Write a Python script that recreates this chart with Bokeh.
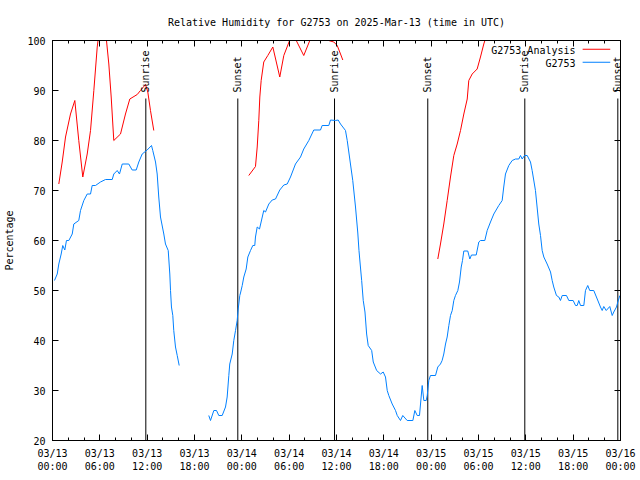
import math
import pandas as pd
from bokeh.plotting import figure
from bokeh.models import (Range1d, FixedTicker, DatetimeTickFormatter, LinearAxis, DatetimeAxis,
                          CustomJSTickFormatter, Label)
from bokeh.embed import file_html
from bokeh.resources import INLINE

NAN = float("nan")
START = "2025-03-13 00:00"
SPAN_HOURS = 72

# Observed relative humidity (G2753), hours since START, percent
obs_hours = [0.25, 0.6, 0.8, 1.1, 1.3, 1.56, 1.77, 2.07, 2.5, 2.7, 3.33, 3.55, 3.97, 4.4, 4.82, 5.03,
             5.45, 6.08, 6.72, 7.57, 7.77, 8.2, 8.49, 8.84, 9.67, 10.1, 10.61, 10.94, 11.37, 12.0,
             12.55, 12.71, 13.06, 13.27, 13.47, 13.69, 14.11, 14.32, 14.67, 14.87, 14.96, 15.08,
             15.25, 15.37, 15.59, 15.81, 16.06,
             18.0,
             19.81, 20.03, 20.45, 20.79, 21.08, 21.51, 21.93, 22.14, 22.35, 22.47, 22.78, 22.98,
             23.2, 23.41, 23.54, 23.74, 23.83, 24.05, 24.25, 24.55, 24.76, 25.1, 25.39, 25.64,
             25.73, 25.95, 26.24, 26.78, 27.0, 27.42, 27.85, 28.27, 28.81, 29.32, 29.75, 30.17,
             30.8, 31.44, 31.85, 32.49, 33.12, 33.97, 34.18, 35.02, 35.24, 35.87, 36.21, 36.51,
             37.14, 37.36, 37.77, 38.06, 38.41, 38.7, 38.85, 39.0, 39.19, 39.39, 39.61, 39.82,
             40.02, 40.46, 40.66, 41.09, 41.58, 41.92, 42.21, 42.43, 42.63, 43.06, 43.48, 43.7,
             44.11, 44.4, 44.96, 45.68, 45.93, 46.23, 46.52, 46.65, 46.86, 47.07, 47.37, 47.5,
             47.7, 47.91, 48.55, 48.84, 49.18, 49.39, 49.6, 49.82, 50.03, 50.24, 50.45, 50.67,
             50.87, 51.08, 51.38, 51.59, 51.81, 51.97, 52.14, 52.64, 52.9, 53.11, 53.71, 54.04,
             54.25, 54.8, 55.1, 55.52, 55.94, 56.57, 57.0, 57.2, 57.42, 57.84, 58.27, 58.69,
             59.11, 59.32, 59.54, 59.83, 60.17, 60.59, 60.8, 61.22, 61.64, 61.86, 62.07, 62.28,
             62.7, 63.13, 63.34, 63.54, 63.88, 64.18, 64.39, 64.61, 65.15, 65.45, 66.0, 66.3,
             66.51, 66.71, 66.93, 67.35, 67.56, 67.85, 68.1, 68.61, 69.05, 69.46, 69.68, 69.88,
             70.19, 70.64, 70.95, 71.15, 71.49, 71.66, 71.92]
obs_rh = [52, 53.3, 55.3, 57.3, 59, 58.1, 60, 60, 61.3, 63.3, 64, 66, 68, 69.3, 69.3, 71,
          71, 71.7, 72.2, 72.2, 73.3, 74, 73.3, 75.3, 75.3, 74.1, 74.1, 75.7, 77.3, 78.1,
          79, 78, 75.7, 73.3, 68.7, 64.7, 61.3, 59.3, 58, 53.3, 50, 46.7,
          45, 42, 38.7, 37, 35,
          NAN,
          25, 24, 26, 26, 25, 25, 26.7, 28.7, 33, 35.3, 37.3, 40,
          42, 44, 46.3, 49, 49.5, 51, 52.7, 54.3, 56.7, 58, 59, 59,
          60.7, 62.7, 62.3, 66, 65.7, 67.3, 68.1, 68.3, 70.1, 71.1, 71.3, 72.7,
          75.3, 76.7, 78.3, 80, 82.1, 82.1, 83, 83, 84.1, 84, 84.1, 83.3,
          82, 80, 75.3, 72, 66.7, 61.5, 58, 55.3, 52, 48, 45.7, 41.3,
          39, 38, 35.7, 34, 33.3, 33.7, 32.7, 30, 29, 27.3, 26, 25,
          24, 25, 24, 24, 26, 25, 25, 27.3, 31, 28, 28, 29,
          32, 33, 33, 34.7, 35.3, 36, 37.3, 39.3, 40.7, 43, 45, 46,
          48, 49, 50, 51.7, 54.7, 56, 57.9, 57.9, 56.3, 57.1, 57.1, 59.7,
          60, 60, 62, 63.7, 65.3, 67, 68, 70.7, 73.3, 75, 76, 76.3,
          76.3, 77, 76.3, 77, 77, 75.7, 74, 70, 63.3, 61, 58, 56.7,
          55.3, 53.7, 52, 50.7, 49, 48.7, 48, 49, 49, 48, 48, 47,
          47, 48, 47, 47, 50, 51, 50, 50, 48.3, 46.7, 46, 46.8,
          46, 46.8, 45, 45.7, 46.7, 47.7, 49]

# Analysis relative humidity (G2753 Analysis), hours since START, percent
ana_hours = [0.8, 1.23, 1.65, 2.28, 2.83, 3.33, 3.84, 4.4, 4.82, 5.24, 5.67, 6.08, 6.6, 6.8,
             7.14, 7.44, 7.77, 8.62, 9.25, 9.8, 10.74, 11.15, 11.79, 12.08, 12.42, 12.84,
             18.0,
             24.88, 25.73, 25.95, 26.15, 26.28, 26.45, 26.78, 27.29, 27.93, 28.81, 29.32, 30.42,
             31.85, 33.0, 34.3, 35.0, 35.66, 36.09, 36.51, 36.8,
             42.0,
             48.84, 49.18, 49.6, 50.03, 50.45, 50.87, 51.3, 51.72, 52.14, 52.57, 52.77, 53.2,
             53.83, 54.25, 54.67, 55.01]
ana_rh = [71.3, 75.7, 80.7, 85.3, 88, 80, 72.7, 77.3, 82, 90, 98.7, 104, 104, 100.7,
          95.3, 88.7, 80, 81.3, 85.3, 88.3, 89.2, 90, 91.2, 89.7, 86, 82,
          NAN,
          73, 74.8, 78.7, 84, 88.7, 92, 95.7, 97, 98.7, 92.7, 97, 101.5,
          97, 101.5, 101, 100, 99.7, 99, 97.3, 96.1,
          NAN,
          56.3, 59.3, 63.3, 68, 72.7, 77, 79.3, 82, 85.3, 88.3, 92, 93.3,
          94.3, 96.7, 99.3, 101]

# Sunrise / sunset markers, hours since START
sun_hours = [11.83, 23.49, 35.75, 47.57, 59.87, 71.66]
sun_labels = ["Sunrise", "Sunset", "Sunrise", "Sunset", "Sunrise", "Sunset"]

series_names = ["G2753 Analysis", "G2753"]
series_colors = ["#ff0000", "#0080ff"]

y_ticks = [20, 30, 40, 50, 60, 70, 80, 90, 100]

FONT = "DejaVu Sans Mono"
FS = "10px"

base_ms = pd.Timestamp(START).timestamp() * 1000.0
HOUR = 3600000.0


def to_ms(hours):
    return [base_ms + h * HOUR for h in hours]


p = figure(width=640, height=480, x_axis_type="datetime", output_backend="svg",
           toolbar_location=None,
           x_range=Range1d(base_ms, base_ms + SPAN_HOURS * HOUR), y_range=Range1d(20, 100),
           min_border_left=52, min_border_right=20, min_border_top=40, min_border_bottom=40,
           title="Relative Humidity for G2753 on 2025-Mar-13 (time in UTC)")
p.background_fill_color = "white"
p.border_fill_color = "white"
p.outline_line_color = "black"
p.outline_line_width = 1
p.grid.visible = False

p.title.align = "center"
p.title.text_font = FONT
p.title.text_font_size = FS
p.title.text_font_style = "normal"
p.title.text_color = "black"
p.title.standoff = 25

major_x = to_ms(list(range(0, SPAN_HOURS + 1, 6)))
minor_x = to_ms(list(range(0, SPAN_HOURS + 1, 2)))
fmt_str = "%m/%d\n%H:%M"
fmt = DatetimeTickFormatter(milliseconds=fmt_str, seconds=fmt_str, minsec=fmt_str, minutes=fmt_str,
                            hourmin=fmt_str, hours=fmt_str, days=fmt_str, months=fmt_str, years=fmt_str)

xa = p.xaxis[0]
xa.ticker = FixedTicker(ticks=major_x, minor_ticks=minor_x)
xa.formatter = fmt
ya = p.yaxis[0]
ya.ticker = FixedTicker(ticks=y_ticks)
ya.axis_label = "Percentage"
ya.axis_label_text_font = FONT
ya.axis_label_text_font_size = FS
ya.axis_label_text_font_style = "normal"
ya.axis_label_text_color = "black"
ya.axis_label_standoff = 9

for ax in (xa, ya):
    ax.major_label_text_font = FONT
    ax.major_label_text_font_size = FS
    ax.major_label_text_color = "black"
    ax.major_label_standoff = 7
    ax.major_tick_in = 6
    ax.major_tick_out = 0
    ax.minor_tick_in = 3
    ax.minor_tick_out = 0
    ax.axis_line_color = "black"
ya.minor_tick_line_color = None

blank = CustomJSTickFormatter(code="return '';")
top = DatetimeAxis(ticker=FixedTicker(ticks=major_x, minor_ticks=minor_x), formatter=blank,
                   major_tick_in=6, major_tick_out=0, minor_tick_in=3, minor_tick_out=0,
                   major_label_standoff=0, major_label_text_font_size="0px",
                   axis_line_color="black")
right = LinearAxis(ticker=FixedTicker(ticks=y_ticks), formatter=blank,
                   major_tick_in=6, major_tick_out=0, minor_tick_line_color=None,
                   major_label_standoff=0, major_label_text_font_size="0px",
                   axis_line_color="black")
p.add_layout(top, "above")
p.add_layout(right, "right")

# sunrise / sunset markers
sun_ms = to_ms(sun_hours)
p.segment(x0=sun_ms, y0=[20] * len(sun_ms), x1=sun_ms, y1=[88.4] * len(sun_ms),
          line_color="black", line_width=1)
for xm, lab in zip(sun_ms, sun_labels):
    p.add_layout(Label(x=xm, y=89.6, text=lab, angle=math.pi / 2, text_align="left",
                       text_baseline="middle", text_font=FONT, text_font_size=FS,
                       text_color="black"))

# data lines
p.line(to_ms(ana_hours), ana_rh, line_color=series_colors[0], line_width=1)
p.line(to_ms(obs_hours), obs_rh, line_color=series_colors[1], line_width=1)

# legend (gnuplot style: text then sample)
leg_y = [98.0, 95.4]
for name, col, yy in zip(series_names, series_colors, leg_y):
    p.add_layout(Label(x=base_ms + 66.3 * HOUR, y=yy, text=name, text_align="right",
                       text_baseline="middle", text_font=FONT, text_font_size=FS,
                       text_color="black"))
    p.segment(x0=[base_ms + 67.2 * HOUR], y0=[yy + 0.25], x1=[base_ms + 70.7 * HOUR], y1=[yy + 0.25],
              line_color=col, line_width=1)

open("out.html", "w").write(file_html(p, INLINE))
